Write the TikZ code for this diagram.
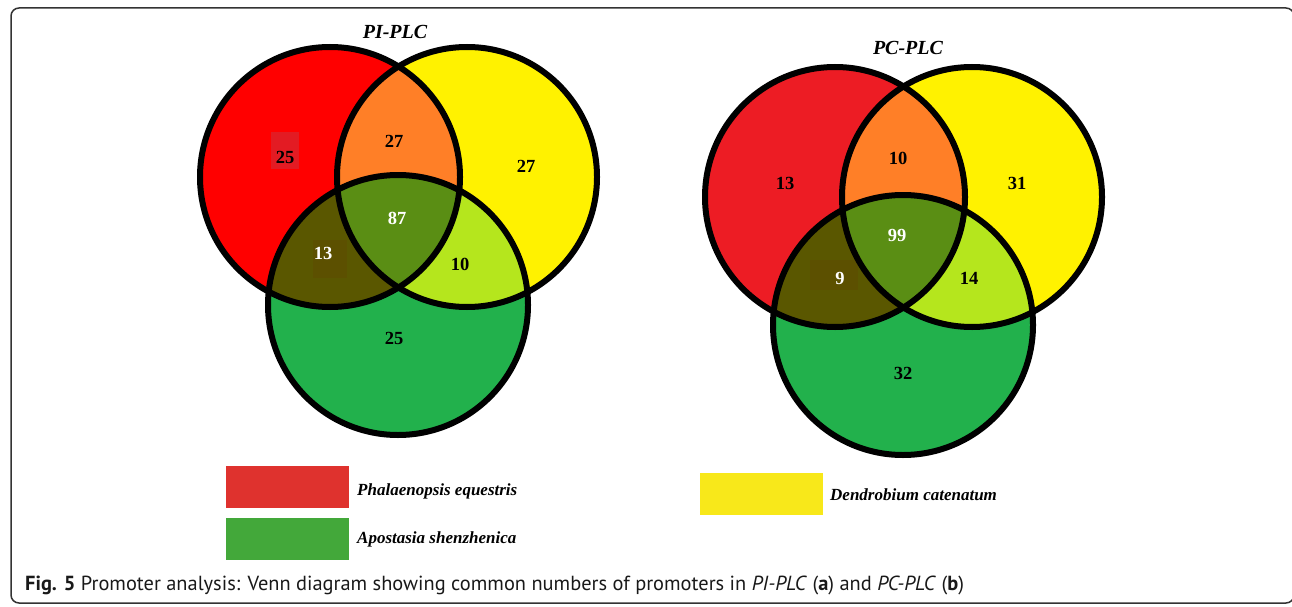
\documentclass[tikz,border=0pt]{standalone}
\usepackage{fontspec}
\setmainfont{Liberation Serif}
\newfontfamily\capfont{PT Sans}
\definecolor{redA}{HTML}{FF0000}
\definecolor{redB}{HTML}{ED1C24}
\definecolor{patchred}{HTML}{E31B23}
\definecolor{vyellow}{HTML}{FFF200}
\definecolor{vorange}{HTML}{FF7F27}
\definecolor{vgreen}{HTML}{22B14C}
\definecolor{vlime}{HTML}{B5E61D}
\definecolor{volive}{HTML}{5A5700}
\definecolor{patcholive}{HTML}{5C5000}
\definecolor{vcentre}{HTML}{5A8E14}
\definecolor{keyred}{HTML}{DF322E}
\definecolor{keygreen}{HTML}{43A83A}
\definecolor{keyyellow}{HTML}{F8E81A}

\begin{document}
\begin{tikzpicture}[x=1pt, y=-1pt,
    num/.style={font=\fontsize{18.5}{18.5}\selectfont\bfseries},
    wnum/.style={num, text=white},
    settitle/.style={font=\fontsize{20}{20}\selectfont\bfseries\itshape},
    ring/.style={line width=6pt},
    keybox/.style={minimum width=123pt, minimum height=42pt, inner sep=0pt},
    keytext/.style={font=\fontsize{17}{17}\selectfont\bfseries\itshape, anchor=base west, inner sep=0pt}]
    \useasboundingbox (0,0) rectangle (1292,607);
    \clip (0,0) rectangle (1292,607);
    \draw[line width=1.5pt, rounded corners=8pt, black!80] (11,8) rectangle (1294,603);

    % the two diagrams
    \foreach \dx/\dy/\rc in {0/0/redA, 505/20/redB} {
        \begin{scope}[shift={(\dx,\dy)}]
            \fill[\rc] (330,177) circle[radius=130];
            \fill[vyellow] (467,177) circle[radius=130];
            \fill[vgreen] (398,305) circle[radius=130];
            \begin{scope}
                \clip (467,177) circle[radius=130];
                \fill[vlime] (398,305) circle[radius=130];
            \end{scope}
            \begin{scope}
                \clip (330,177) circle[radius=130];
                \fill[vorange] (467,177) circle[radius=130];
                \fill[volive] (398,305) circle[radius=130];
                \clip (467,177) circle[radius=130];
                \fill[vcentre] (398,305) circle[radius=130];
            \end{scope}
        \end{scope}
    }
    \fill[patchred] (271,132) rectangle (299,169);
    \fill[patcholive] (313,240) rectangle (347,278);
    \fill[patcholive] (810,260) rectangle (858,290);
    \foreach \dx/\dy in {0/0, 505/20} {
        \begin{scope}[shift={(\dx,\dy)}]
            \draw[ring] (330,177) circle[radius=130];
            \draw[ring] (467,177) circle[radius=130];
            \draw[ring] (398,305) circle[radius=130];
        \end{scope}
    }

    \node[settitle] (piplc) at (395,32) {PI-PLC};
    \node[num] (pired) at (285,157) {25};
    \node[num] (piry) at (394,141) {27};
    \node[num] (piyel) at (526,166) {27};
    \node[wnum] (piall) at (397,218) {87};
    \node[wnum] (pirg) at (323,253) {13};
    \node[num] (piyg) at (460,264) {10};
    \node[num] (pigrn) at (394,338) {25};

    \node[settitle] (pcplc) at (908,48) {PC-PLC};
    \node[num] (pcred) at (785,183) {13};
    \node[num] (pcry) at (898,158) {10};
    \node[num] (pcyel) at (1017,183) {31};
    \node[wnum] (pcall) at (897,235) {99};
    \node[wnum] (pcrg) at (840,278) {9};
    \node[num] (pcyg) at (969,278) {14};
    \node[num] (pcgrn) at (903,373) {32};

    \node[keybox, fill=keyred] (kpe) at (287.5,487) {};
    \node[keybox, fill=keygreen] (kas) at (287.5,539) {};
    \node[keybox, fill=keyyellow] (kdc) at (761,494) {};
    \node[keytext] (tpe) at (357,495) {Phalaenopsis equestris};
    \node[keytext] (tas) at (357,543) {Apostasia shenzhenica};
    \node[keytext] (tdc) at (830,500) {Dendrobium catenatum};

    \node[anchor=base west, inner sep=0pt, text=black!90, font=\capfont\fontsize{20.4}{20.4}\selectfont] (caption) at (25,590)
        {\textbf{Fig. 5} Promoter analysis: Venn diagram showing common numbers of promoters in \textit{PI-PLC} (\textbf{a}) and \textit{PC-PLC} (\textbf{b})};
\end{tikzpicture}
\end{document}
